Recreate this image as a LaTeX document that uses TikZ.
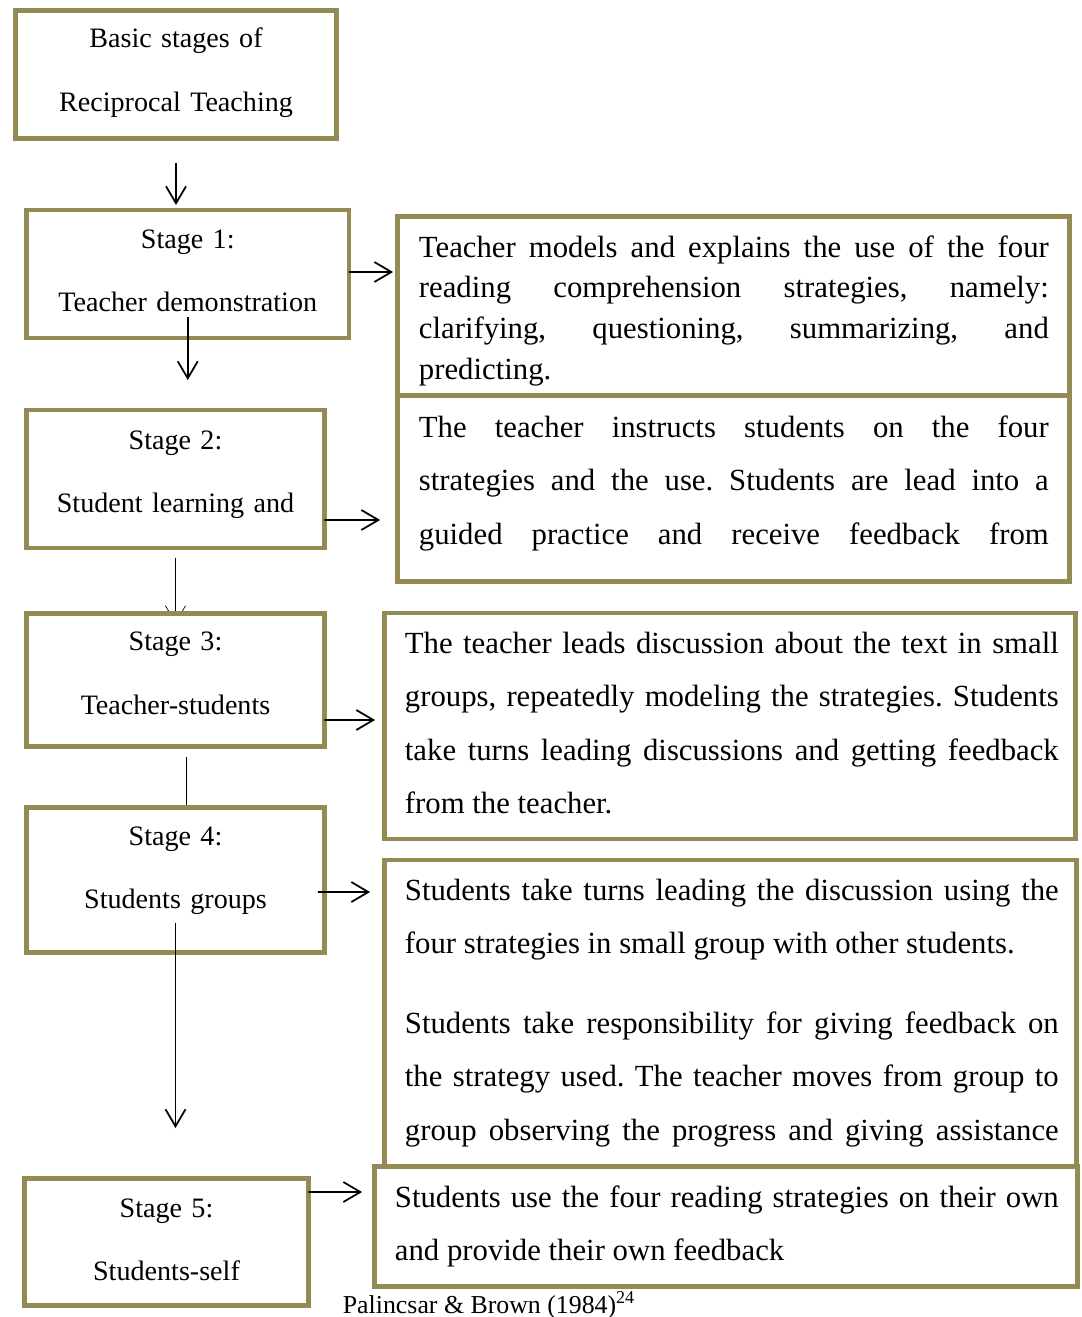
\documentclass[tikz,border=0pt]{standalone}
\usepackage{fontspec}
\setmainfont{Liberation Serif}
\usetikzlibrary{arrows.meta,backgrounds}
\definecolor{olivebox}{RGB}{148,138,84}
\tolerance=10000
\hbadness=10000
\frenchspacing

\begin{document}
\begin{tikzpicture}[
    x = 0.02cm, y = -0.02cm, % one unit = one pixel of the scan
    > = {Straight Barb[length=3.4mm,width=4mm]}, % arrow head style
    line width = 1pt % connector style
    ]

    \tikzset{
    box/.style = {draw = olivebox, line width = 2.8pt, fill = white,
      inner sep = 0pt, outer sep = 0pt},
    stagetext/.style = {text width = 5.8cm, align = center, anchor = base,
      inner sep = 0pt, font = \fontsize{16}{36.3}\selectfont},
    notetext/.style = {align = justify, anchor = base west, inner sep = 0pt,
      font = \fontsize{17.5}{30.5}\selectfont}
    }
    \useasboundingbox (0,0) rectangle (1081,1317);

    % stages
    \node[box, minimum width = 6.42cm, minimum height = 2.56cm] (st0) at (176,74.5) {};
    \node[box, minimum width = 6.45cm, minimum height = 2.56cm] (st1) at (187.75,274) {};
    \node[box, minimum width = 5.96cm, minimum height = 2.76cm] (st2) at (175.5,479) {};
    \node[box, minimum width = 5.96cm, minimum height = 2.66cm] (st3) at (175.5,680) {};
    \node[box, minimum width = 5.96cm, minimum height = 2.9cm] (st4) at (175.5,880) {};
    \node[box, minimum width = 5.68cm, minimum height = 2.54cm] (st5) at (166.5,1242) {};

    \node[stagetext] (st0t) at ([yshift=-0.75cm]st0.north) {Basic stages of\\Reciprocal Teaching};
    \node[stagetext] (st1t) at ([yshift=-0.76cm]st1.north) {Stage 1:\\Teacher demonstration};
    \node[stagetext] (st2t) at ([yshift=-0.78cm]st2.north) {Stage 2:\\Student learning and};
    \node[stagetext] (st3t) at ([yshift=-0.74cm]st3.north) {Stage 3:\\Teacher-students};
    \node[stagetext] (st4t) at ([yshift=-0.75cm]st4.north) {Stage 4:\\Students groups};
    \node[stagetext] (st5t) at ([yshift=-0.77cm]st5.north) {Stage 5:\\Students-self};

    % notes
    \node[box, minimum width = 13.45cm, minimum height = 3.58cm] (n1) at (733.25,306) {};
    \node[box, minimum width = 13.45cm, minimum height = 3.72cm] (n2) at (733.25,488.5) {};
    \node[box, minimum width = 13.83cm, minimum height = 4.52cm] (n3) at (730.25,726) {};
    \node[box, minimum width = 13.85cm, minimum height = 6.13cm] (n4) at (730.75,1013.25) {};
    \node[box, minimum width = 14.07cm, minimum height = 2.4cm] (n5) at (726.25,1226.5) {};

    \node[notetext, text width = 12.6cm, font = \fontsize{17.5}{23.25}\selectfont] (n1t)
      at ([xshift=0.42cm,yshift=-0.81cm]n1.north west)
      {Teacher models and explains the use of the four\linebreak reading comprehension strategies, namely:\linebreak clarifying, questioning, summarizing, and\linebreak predicting.};
    \node[notetext, text width = 12.6cm] (n2t) at ([xshift=0.42cm,yshift=-0.83cm]n2.north west)
      {\parfillskip=0pt The teacher instructs students on the four\linebreak strategies and the use. Students are lead into a\linebreak guided practice and receive feedback from\par};
    \node[notetext, text width = 13.08cm] (n3t) at ([xshift=0.39cm,yshift=-0.8cm]n3.north west)
      {The teacher leads discussion about the text in small\linebreak groups, repeatedly modeling the strategies. Students\linebreak take turns leading discussions and getting feedback\linebreak from the teacher.};
    \node[notetext, text width = 13.08cm] (n4t) at ([xshift=0.39cm,yshift=-0.8cm]n4.north west)
      {Students take turns leading the discussion using the\linebreak four strategies in small group with other students.\par
      \vspace{0.52cm}\parfillskip=0pt Students take responsibility for giving feedback on\linebreak the strategy used. The teacher moves from group to\linebreak group observing the progress and giving assistance\par};
    \node[notetext, text width = 13.28cm] (n5t) at ([xshift=0.39cm,yshift=-0.81cm]n5.north west)
      {Students use the four reading strategies on their own\linebreak and provide their own feedback};

    \node[anchor = base west, inner sep = 0pt, font = \fontsize{14.7}{17}\selectfont] (src)
      at (342,1313) {Palincsar \& Brown (1984)\textsuperscript{24}};

    % arrows
    \draw[->, shorten <=0.49cm, shorten >=0.1cm] (st0.south) -- (st0.south |- st1.north);
    \draw[->, shorten >=0.08cm] ([yshift=0.04cm]st1.east) -- ([yshift=0.68cm]n1.west);
    \draw[->, shorten <=-0.42cm, shorten >=0.6cm] (st1.south) -- (st1.south |- st2.north);
    \draw[->, shorten >=0.34cm] ([yshift=-0.82cm]st2.east) -- ([yshift=-0.63cm]n2.west);
    \draw[->, shorten >=0.19cm] ([yshift=-0.8cm]st3.east) -- ([yshift=0.12cm]n3.west);
    \draw[->, shorten <=-0.13cm, shorten >=0.29cm] ([yshift=-0.24cm]st4.east) -- ([yshift=2.425cm]n4.west);
    \draw[->, shorten <=-0.6cm, shorten >=1.01cm] (st4.south) -- (st4.south |- st5.north);
    \draw[->, shorten >=0.25cm] ([yshift=1.0cm]st5.east) -- ([yshift=0.69cm]n5.west);

    \begin{scope}[on background layer]
    \draw[->, shorten <=0.2cm, shorten >=-0.2cm] (st2.south) -- (st3.north);
    \draw[->, shorten <=0.21cm, shorten >=-0.5cm] ([xshift=0.21cm]st3.south) -- ([xshift=0.21cm]st4.north);
    \end{scope}
\end{tikzpicture}
\end{document}
